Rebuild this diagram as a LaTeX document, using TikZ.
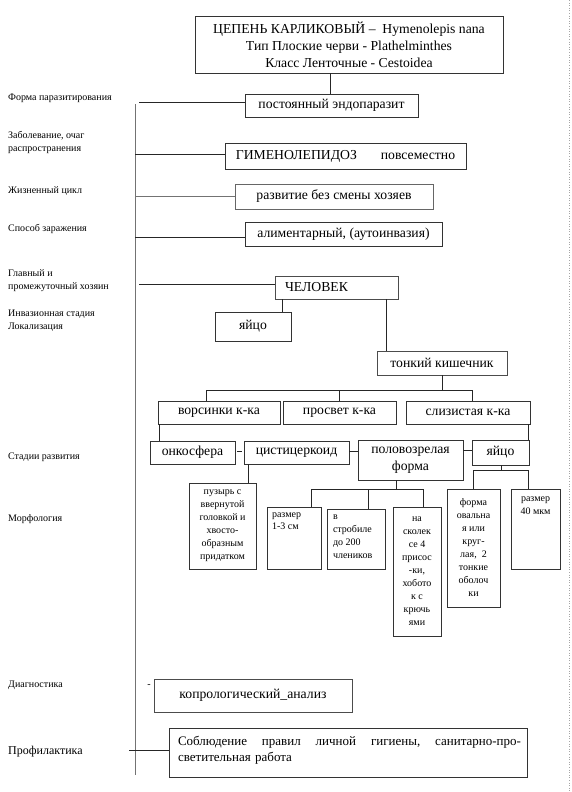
\documentclass[tikz,border=0pt]{standalone}
\usepackage{fontspec}
\setmainfont{Liberation Serif}
\newcommand\mainf{\fontsize{13.7pt}{17pt}\selectfont}
\newcommand\smf{\fontsize{10pt}{13pt}\selectfont}
\newcommand\lblf{\fontsize{10pt}{13.5pt}\selectfont}
\newcommand\proff{\fontsize{13pt}{16pt}\selectfont}
\begin{document}
\begin{tikzpicture}[x=1pt,y=-1pt,
  bx/.style={draw=black!80, line width=0.8pt, inner sep=0pt, outer sep=0pt, anchor=north west, align=center, font=\mainf},
  txt/.style={inner sep=0pt, outer sep=0pt},
  lbl/.style={anchor=west, inner sep=0pt, align=left, font=\lblf},
  ln/.style={line width=0.7pt, black!85},
  gln/.style={line width=0.9pt, black!55}]
\useasboundingbox[fill=white] (0,0) rectangle (571,792);
% right page edge
\coordinate (pgT) at (569,0); \coordinate (pgB) at (569,792);
\draw[black!35, dotted, line width=0.6pt] (pgT) -- (pgB);

% left labels
\node[lbl] (l1) at (8,98) {Форма паразитирования};
\node[lbl] (l2) at (8,142.5) {Заболевание, очаг\\распространения};
\node[lbl] (l3) at (8,191) {Жизненный цикл};
\node[lbl] (l4) at (8,229) {Способ заражения};
\node[lbl] (l5) at (8,280.5) {Главный и\\промежуточный хозяин};
\node[lbl] (l6) at (8,320.5) {Инвазионная стадия\\Локализация};
\node[lbl] (l7) at (8,457) {Стадии развития};
\node[lbl] (l8) at (8,519) {Морфология};
\node[lbl] (l9) at (8,685) {Диагностика};
\node[lbl, font=\fontsize{12pt}{14pt}\selectfont] (l10) at (8,752) {Профилактика};

% main boxes
\node[bx, minimum width=308pt, minimum height=57pt] (top) at (195,16)
  {ЦЕПЕНЬ КАРЛИКОВЫЙ –~ Hymenolepis nana\\Тип Плоские черви - Plathelminthes\\Класс Ленточные - Cestoidea};
\node[bx, minimum width=173pt, minimum height=23pt] (post) at (245,94) {постоянный эндопаразит};
\node[bx, minimum width=241pt, minimum height=26pt] (gim) at (225,143) {ГИМЕНОЛЕПИДОЗ\hspace{24pt}повсеместно};
\node[bx, minimum width=198pt, minimum height=25pt, draw=black!60] (razv) at (235,184) {развитие без смены хозяев};
\node[bx, minimum width=197pt, minimum height=24pt] (alim) at (245,222) {алиментарный, (аутоинвазия)};
\node[bx, minimum width=123pt, minimum height=23pt, text width=103pt, align=left, draw=black!70] (chel) at (275,276) {\raisebox{-2pt}{ЧЕЛОВЕК}};
\node[bx, minimum width=76pt, minimum height=29pt] (egg1) at (215,312) {яйцо};
\node[bx, minimum width=130pt, minimum height=24pt, draw=black!70] (tonk) at (377,351) {\raisebox{-2pt}{тонкий кишечник}};

\node[bx, minimum width=122pt, minimum height=23pt] (vors) at (158,401) {ворсинки к-ка};
\node[bx, minimum width=113pt, minimum height=23pt] (prosv) at (283,401) {просвет к-ка};
\node[bx, minimum width=124pt, minimum height=23pt] (sliz) at (406,401) {слизистая к-ка};

\node[bx, minimum width=85pt, minimum height=23pt] (onko) at (150,441) {онкосфера};
\node[bx, minimum width=105pt, minimum height=23pt] (cist) at (244,441) {цистицеркоид};
\node[bx, minimum width=105pt, minimum height=40pt] (polov) at (358,440) {половозрелая\\форма};
\node[bx, minimum width=57pt, minimum height=25pt] (egg2) at (472,440) {яйцо};

% morphology
\node[bx, minimum width=67pt, minimum height=86pt, font=\smf] (puz) at (189,483)
  {пузырь с\\ввернутой\\головкой и\\хвосто-\\образным\\придатком};
\node[bx, minimum width=54pt, minimum height=62pt] (r13) at (267,507) {};
\node[txt, anchor=north west, align=left, font=\fontsize{10pt}{12pt}\selectfont] (r13t) at (272,513) {размер\\1-3 см};
\node[bx, minimum width=58pt, minimum height=60pt] (str) at (327,509) {};
\node[txt, anchor=north west, align=left, font=\smf] (strt) at (333,515) {в\\стробиле\\до 200\\члеников};
\node[bx, minimum width=48pt, minimum height=129pt, font=\smf] (skol) at (393,507)
  {на\\сколек\\се 4\\присос\\-ки,\\хобото\\к с\\крючь\\ями};
\node[bx, minimum width=53pt, minimum height=118pt, font=\smf] (oval) at (447,489)
  {форма\\овальна\\я или\\круг-\\лая,~ 2\\тонкие\\оболоч\\ки};
\node[bx, minimum width=49pt, minimum height=80pt] (r40) at (511,489) {};
\node[txt, anchor=north, align=center, font=\smf] (r40t) at (535.5,497) {размер\\40 мкм};

% diagnostics & prophylaxis
\node[txt, font=\smf] (dash) at (149,686) {-};
\node[bx, minimum width=198pt, minimum height=33pt, draw=black!70] (copro) at (154,679) {копрологический\_анализ};
\node[bx, minimum width=358pt, minimum height=49pt] (prof) at (169,728) {};
\node[txt, anchor=north west, align=left, font=\proff, text width=343pt] (proft) at (178,736)
  {\hbox to 343pt{Соблюдение\hfill правил\hfill личной\hfill гигиены,\hfill санитарно-про-}\\светительная работа};

% spine
\coordinate (spT) at (135,104); \coordinate (spB) at (135,775);
\draw[gln] (spT) -- (spB);
\coordinate (s1) at (139,102);
\coordinate (s2) at (135,154);
\coordinate (s3) at (135,196);
\coordinate (s4) at (135,237);
\coordinate (s5) at (139,284);
\coordinate (s6) at (129,750);
\draw[ln] (s1) -- (s1 -| post.west);
\draw[ln] (s2) -- (s2 -| gim.west);
\draw[gln] (s3) -- (s3 -| razv.west);
\draw[ln] (s4) -- (s4 -| alim.west);
\draw[ln] (s5) -- (s5 -| chel.west);
\draw[ln] (s6) -- (s6 -| prof.west);

% top to post
\coordinate (c0) at (330,0);
\draw[ln] (c0 |- top.south) -- (c0 |- post.north);

% человек branches
\coordinate (c1) at (282,0);
\coordinate (c2) at (386,0);
\draw[ln] (c1 |- chel.south) -- (c1 |- egg1.north);
\draw[ln] (c2 |- chel.south) -- (c2 |- tonk.north);

% тонкий кишечник bus
\coordinate (b1) at (0,390);
\coordinate (v1) at (206,390);
\coordinate (v2) at (339,390);
\coordinate (v3) at (472,390);
\draw[ln] (tonk.south) -- (tonk.south |- b1);
\draw[ln] (v1) -- (v3);
\draw[ln] (v1) -- (v1 |- vors.north);
\draw[ln] (v2) -- (v2 |- prosv.north);
\draw[ln] (v3) -- (v3 |- sliz.north);

% row1 to row2
\coordinate (c3) at (159,0);
\coordinate (c4) at (528,0);
\draw[ln] (c3 |- vors.south) -- (c3 |- onko.north);
\draw[ln] (c4 |- sliz.south) -- (c4 |- egg2.north);

% row2 chain
\coordinate (r2) at (0,451);
\draw[ln, shorten <=2pt, shorten >=2pt] (r2 -| onko.east) -- (r2 -| cist.west);
\draw[ln] (r2 -| cist.east) -- (r2 -| polov.west);
\coordinate (r2b) at (0,450);
\draw[ln] (r2b -| polov.east) -- (r2b -| egg2.west);

% цистицеркоид to пузырь
\coordinate (c5) at (248,0);
\draw[ln] (c5 |- cist.south) -- (c5 |- puz.north);

% половозрелая bus
\coordinate (p0) at (396,489);
\coordinate (p1) at (311,489);
\coordinate (p2) at (368,489);
\coordinate (p3) at (423,489);
\draw[ln] (p0 |- polov.south) -- (p0);
\draw[ln] (p1) -- (p3);
\draw[ln] (p1) -- (p1 |- r13.north);
\draw[ln] (p2) -- (p2 |- str.north);
\draw[ln] (p3) -- (p3 |- skol.north);

% яйцо bus
\coordinate (e0) at (501,470);
\coordinate (e1) at (473,470);
\coordinate (e2) at (528,470);
\draw[ln] (e0 |- egg2.south) -- (e0);
\draw[ln] (e1) -- (e2);
\draw[ln] (e1) -- (e1 |- oval.north);
\draw[ln] (e2) -- (e2 |- r40.north);
\end{tikzpicture}
\end{document}
